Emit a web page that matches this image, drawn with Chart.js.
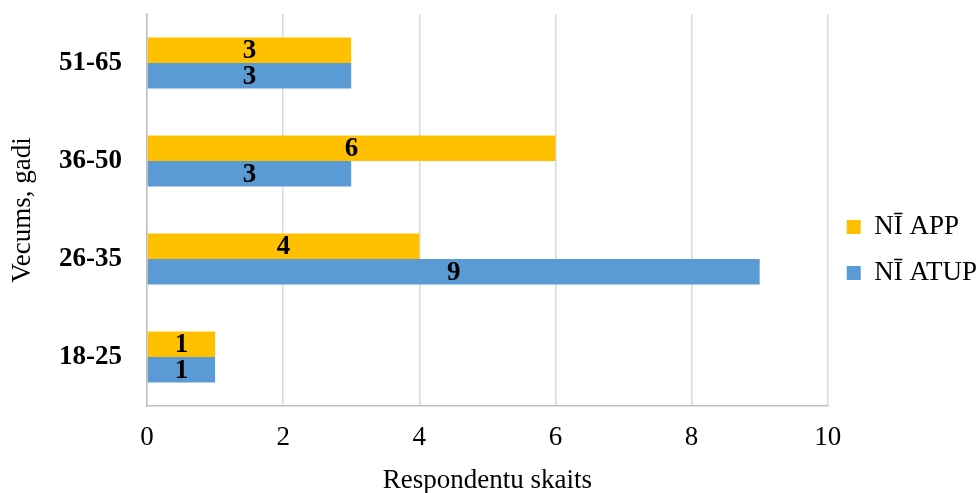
<!DOCTYPE html>
<html><head><meta charset="utf-8">
<script src="https://cdn.jsdelivr.net/npm/chart.js@4/dist/chart.umd.min.js"></script>
<style>html,body{margin:0;padding:0;background:#fff}#wrap{width:978px;height:493px}</style>
</head><body><div id="wrap"><canvas id="c"></canvas></div>
<script>
const categories = ['51-65', '36-50', '26-35', '18-25'];
const seriesNames = ['NĪ APP', 'NĪ ATUP'];
const appValues = [3, 6, 4, 1];
const atupValues = [3, 3, 9, 1];
const xTicks = [0, 2, 4, 6, 8, 10];
const colors = ['#FFC000', '#5B9BD5'];
const FONT = '"Liberation Serif", "Times New Roman", serif';

const labelPlugin = {
  id: 'barLabels',
  afterDatasetsDraw(chart) {
    const ctx = chart.ctx;
    ctx.save();
    ctx.font = 'bold 27px ' + FONT;
    ctx.fillStyle = '#000';
    ctx.textAlign = 'center';
    ctx.textBaseline = 'middle';
    chart.data.datasets.forEach((ds, i) => {
      chart.getDatasetMeta(i).data.forEach((bar, j) => {
        const cx = (bar.x + bar.base) / 2;
        ctx.fillText(String(ds.data[j]), cx, bar.y + 1);
      });
    });
    ctx.restore();
  }
};

new Chart(document.getElementById('c'), {
  type: 'bar',
  data: {
    labels: categories,
    datasets: [
      { label: seriesNames[0], data: appValues, backgroundColor: colors[0] },
      { label: seriesNames[1], data: atupValues, backgroundColor: colors[1] }
    ]
  },
  options: {
    indexAxis: 'y',
    responsive: true,
    maintainAspectRatio: false,
    animation: false,
    layout: { padding: { top: 14, right: -9, left: 0, bottom: 0 } },
    datasets: { bar: { categoryPercentage: 0.52, barPercentage: 1.0 } },
    scales: {
      x: {
        min: 0, max: 10,
        afterBuildTicks(s) { s.ticks = xTicks.map(v => ({ value: v })); },
        afterFit(s) { s.height = 87; s.paddingLeft = 0; s.paddingRight = 0; },
        grid: { color: '#d9d9d9', lineWidth: 1.5, drawTicks: false },
        border: { color: '#bfbfbf', width: 1.5 },
        ticks: { color: '#000', font: { family: FONT, size: 27 }, padding: 16 },
        title: { display: true, text: 'Respondentu skaits', color: '#000', font: { family: FONT, size: 27 }, padding: { top: 0, bottom: -4 } }
      },
      y: {
        afterFit(s) { s.width = 147; s.paddingTop = 0; s.paddingBottom = 0; },
        grid: { display: false, drawTicks: false },
        border: { color: '#bfbfbf', width: 1.5 },
        ticks: { color: '#000', font: { family: FONT, size: 27, weight: 'bold' }, padding: 25 },
        title: { display: true, text: 'Vecums, gadi', color: '#000', font: { family: FONT, size: 27 }, padding: { top: 7, bottom: 0 } }
      }
    },
    plugins: {
      legend: {
        position: 'right',
        align: 'start',
        title: { display: true, text: '', font: { size: 12 }, padding: { top: 166, bottom: 0 } },
        labels: { color: '#000', font: { family: FONT, size: 27 }, boxWidth: 14, boxHeight: 14, padding: 19 }
      },
      tooltip: { enabled: false }
    }
  },
  plugins: [labelPlugin]
});
</script></body></html>
